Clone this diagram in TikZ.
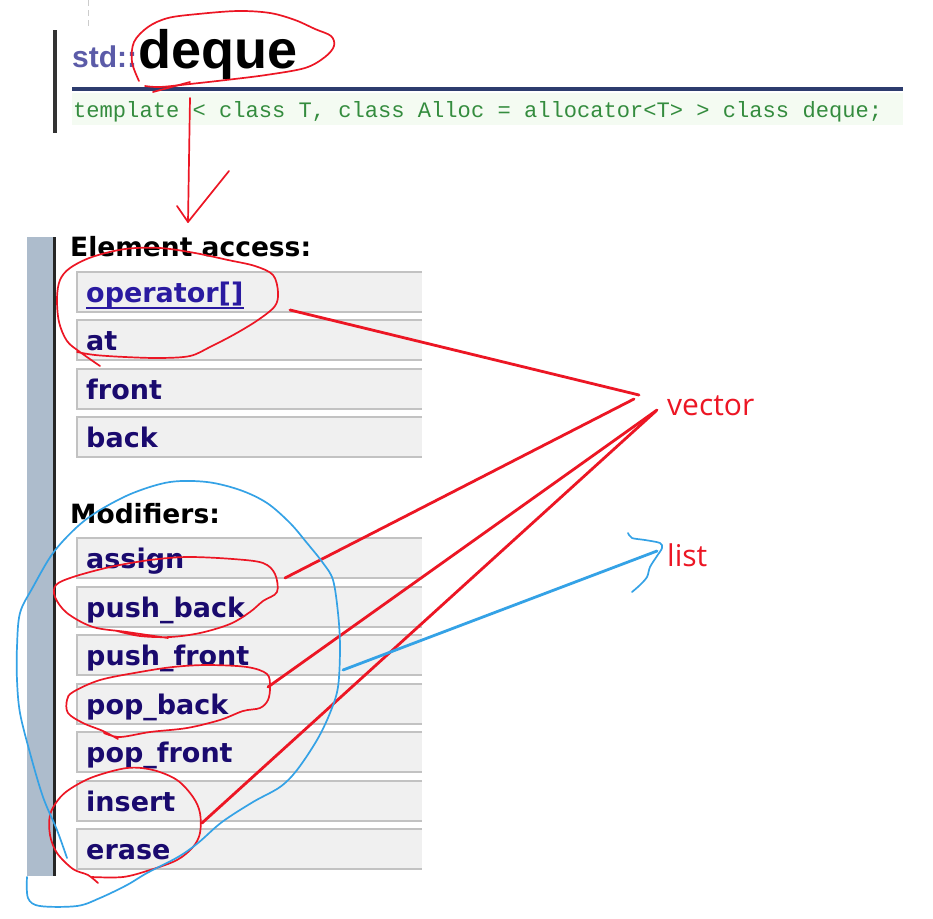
\documentclass[tikz,border=0pt]{standalone}
\usepackage{fontspec}
\newfontfamily\dvs{DejaVu Sans}
\newfontfamily\lsans{Liberation Sans}
\newfontfamily\lmono{Liberation Mono}
\newfontfamily\osans{Open Sans}
\definecolor{navytxt}{RGB}{26,10,110}
\definecolor{linktxt}{RGB}{42,26,160}
\definecolor{stdcol}{RGB}{91,91,168}
\definecolor{tplgreen}{RGB}{52,140,62}
\definecolor{tplbg}{RGB}{244,251,242}
\definecolor{hrcol}{RGB}{45,60,110}
\definecolor{barcol}{RGB}{173,188,204}
\definecolor{rowfill}{RGB}{240,240,240}
\definecolor{rowline}{RGB}{194,194,194}
\definecolor{penred}{RGB}{236,22,36}
\definecolor{penblue}{RGB}{52,162,230}
\begin{document}
\begin{tikzpicture}[x=1pt,y=-1pt,
  rowbg/.style={fill=rowfill, draw=none, inner sep=0pt, outer sep=0pt, minimum width=345pt},
  rowedge/.style={draw=rowline, line width=2pt},
  rowtext/.style={inner sep=0pt, anchor=base west, text=navytxt, font=\dvs\bfseries\fontsize{27}{32}\selectfont},
  headtext/.style={inner sep=0pt, anchor=base west, text=black, font=\dvs\bfseries\fontsize{26.5}{32}\selectfont},
  redpen/.style={draw=penred, line width=1.7pt, line cap=round, line join=round},
  redline/.style={draw=penred, line width=2.8pt, line cap=round},
  bluepen/.style={draw=penblue, line width=1.7pt, line cap=round, line join=round},
  blueline/.style={draw=penblue, line width=2.8pt, line cap=round},
  notetext/.style={inner sep=0pt, anchor=base west, text=penred, font=\osans\fontsize{30}{36}\selectfont}
]
\useasboundingbox (0,0) rectangle (933,918);
\fill[white] (0,0) rectangle (933,918);

% ---- header area ----
\draw[gray!40, line width=1pt, dash pattern=on 6pt off 4pt] (88,0) -- (88,28);
\fill[black!80] (53,30) rectangle (57,133);
\node[inner sep=0pt, anchor=base west, text=stdcol, font=\lsans\bfseries\fontsize{30}{34}\selectfont] (std) at (72,67) {std::};
\node[inner sep=0pt, anchor=base west, text=black, font=\lsans\bfseries\fontsize{54}{60}\selectfont] (deque) at (138,68) {deque};
\fill[hrcol] (72,87) rectangle (903,91);
\fill[tplbg] (72,93) rectangle (903,125);
\node[inner sep=0pt, anchor=base west, text=tplgreen, font=\lmono\fontsize{22.1}{26}\selectfont] (tpl) at (73,117) {template < class T, class Alloc = allocator<T> > class deque;};

% ---- left side bar ----
\fill[barcol] (27,237) rectangle (53,876);
\fill[black!85] (53,237) rectangle (56,876);

% ---- headings ----
\node[headtext] (hacc) at (70,256) {Element access:};
\node[headtext] (hmod) at (70,523) {Modifiers:};

% ---- rows ----
\node[rowbg, anchor=north west, minimum height=40pt] (r1) at (77,272) {};
\draw[rowedge] (r1.north east) -- (r1.north west) -- (r1.south west) -- (r1.south east);
\node[rowtext, text=linktxt] (r1t) at (86,302) {operator[]};
\draw[linktxt, line width=2pt] (r1t.south west) -- (r1t.south east);
\foreach \nm/\tp/\txt in {r2/320/at, r3/369/front, r4/417/back,
  m1/538/assign, m2/587/push\_back, m3/635/push\_front, m4/684/pop\_back,
  m5/732/pop\_front, m6/781/insert, m7/829/erase}{
  \node[rowbg, anchor=north west, minimum height=40pt] (\nm) at (77,\tp) {};
  \draw[rowedge] (\nm.north east) -- (\nm.north west) -- (\nm.south west) -- (\nm.south east);
  \node[rowtext] (\nm t) at (86,\tp+30) {\txt};
}

% ---- annotation labels ----
\node[notetext] (vec) at (667,415) {vector};
\node[notetext] (lst) at (667,566) {list};

% ---- red circle around deque and arrow ----
\draw[redpen] plot[smooth, tension=0.55] coordinates {(139,81) (132,62) (134,42) (148,27) (168,18) (198,14) (238,11) (270,13) (295,20) (315,29) (331,36) (334,46) (325,57) (305,68) (266,75) (226,80) (190,84) (160,87) (145,86)};
\draw[redpen] (153,92) -- (190,82);
\coordinate (arrS) at (190,98);
\coordinate (arrT) at (188,222);
\coordinate (barbL) at (177,206);
\coordinate (barbR) at (229,171);
\draw[redpen] (arrS) -- (arrT);
\draw[redpen] (barbL) -- (arrT) -- (barbR);

% ---- red circles ----
\draw[redpen] plot[smooth, tension=0.55] coordinates {(100,366) (80,352) (67,341) (59,322) (57,298) (60,280) (70,268) (92,257) (125,249) (160,248) (195,253) (228,260) (255,266) (273,275) (278,292) (275,306) (258,320) (235,334) (210,347) (190,356) (160,358) (125,357) (95,355) (77,352)};
\draw[redpen] plot[smooth, tension=0.55] coordinates {(168,638) (127,632) (93,627) (67,613) (55,597) (56,585) (73,577) (110,567) (150,560) (187,557) (233,559) (263,563) (275,574) (277,592) (263,601) (250,612) (230,624) (200,633) (170,637) (140,636) (117,631)};
\draw[redpen] plot[smooth, tension=0.55] coordinates {(118,739) (103,731) (83,723) (68,713) (67,700) (73,692) (100,680) (140,672) (173,667) (207,665) (247,667) (267,674) (270,687) (268,700) (260,708) (243,711) (220,720) (187,728) (150,732) (120,737) (104,733)};
\draw[redpen] plot[smooth, tension=0.55] coordinates {(98,883) (88,875) (73,869) (57,853) (50,835) (50,815) (58,800) (70,789) (93,777) (127,768) (153,770) (177,780) (193,797) (200,813) (200,833) (193,847) (177,860) (150,870) (123,877) (92,877)};

% ---- red connectors to "vector" ----
\coordinate (s1) at (290,310); \coordinate (e1) at (639,395);
\coordinate (s2) at (285,578); \coordinate (e2) at (634,399);
\coordinate (s3) at (268,687); \coordinate (e3) at (657,410);
\coordinate (s4) at (202,823); \coordinate (e4) at (656,411);
\draw[redline] (s1) -- (e1);
\draw[redline] (s2) -- (e2);
\draw[redline] (s3) -- (e3);
\draw[redline] (s4) -- (e4);

% ---- blue loop around modifiers ----
\draw[bluepen] plot[smooth, tension=0.55] coordinates {(67,858) (57,830) (43,797) (30,753) (20,713) (17,680) (17,647) (20,613) (33,587) (53,553) (77,527) (100,510) (133,493) (170,482) (207,482) (240,490) (267,503) (290,523) (307,543) (323,563) (333,580) (338,613) (340,647) (338,687) (330,713) (317,740) (297,770) (280,787) (253,802) (222,822) (198,843) (178,857) (147,873) (127,885) (100,898) (77,906) (40,906) (28,898) (27,877)};

% ---- blue connector to "list" ----
\coordinate (bs) at (343,670);
\coordinate (be) at (657,551);
\draw[blueline] (bs) -- (be);
\draw[bluepen] plot[smooth, tension=0.5] coordinates {(628,533) (632,538) (645,540) (660,543) (662,548) (657,556) (650,567) (647,577) (640,585) (632,592)};
\end{tikzpicture}
\end{document}
